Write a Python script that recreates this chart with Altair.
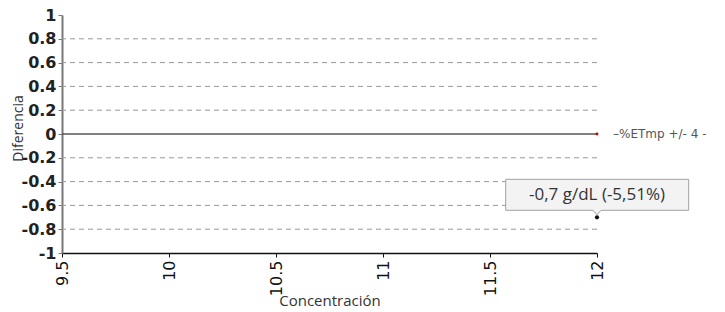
import altair as alt
import pandas as pd

x_ticks = [9.5, 10, 10.5, 11, 11.5, 12]
y_ticks = [-1, -0.8, -0.6, -0.4, -0.2, 0, 0.2, 0.4, 0.6, 0.8, 1]
grid_vals = [-0.8, -0.6, -0.4, -0.2, 0.2, 0.4, 0.6, 0.8]
line_x = [9.5, 12]
line_y = [0, 0]
point_x = [12]
point_y = [-0.7]
point_label = ["-0,7 g/dL (-5,51%)"]
legend_label = ["–%ETmp +/- 4 -"]

xscale = alt.Scale(domain=[9.5, 12], nice=False, zero=False)
yscale = alt.Scale(domain=[-1, 1], nice=False, zero=False)

line_df = pd.DataFrame({"x": line_x, "y": line_y})
pt_df = pd.DataFrame({"x": point_x, "y": point_y, "label": point_label})
leg_df = pd.DataFrame({"x": [line_x[-1]], "y": [line_y[-1]], "label": legend_label})
grid_df = pd.DataFrame({"x": [line_x[0]] * len(grid_vals), "y": grid_vals})

x_axis = alt.Axis(
    values=x_ticks, labelExpr="'' + datum.value", labelAngle=270,
    labelFont="DejaVu Sans", labelFontSize=16, labelColor="#111",
    labelPadding=3, tickSize=4, tickColor="#111", domainColor="#111",
    domainWidth=1.5, grid=False, labelOverlap=False, labelBound=False,
    labelFlush=False, title="Concentración",
    titleFont="Open Sans", titleFontSize=15, titleFontWeight="normal",
    titleColor="#333", titleY=47, titleBaseline="middle",
)
y_axis = alt.Axis(
    values=y_ticks, labelExpr="'' + datum.value",
    labelFont="DejaVu Sans", labelFontSize=16, labelFontWeight="bold",
    labelColor="#222", labelPadding=2, tickSize=4, tickColor="#777",
    domainColor="#777", domainWidth=2, grid=False, labelOverlap=False,
    labelBound=False, labelFlush=False, title="Diferencia",
    titleFont="Open Sans", titleFontSize=14, titleFontWeight="normal",
    titleColor="#333", titleX=-44, titleY=113, titleAngle=270,
    titleAlign="center", titleBaseline="middle",
)

X = alt.X("x:Q", scale=xscale, axis=x_axis)
Y = alt.Y("y:Q", scale=yscale, axis=y_axis)

line = alt.Chart(line_df).mark_line(color="#555", strokeWidth=1.5).encode(x=X, y=Y)

grid = alt.Chart(grid_df).mark_rule(color="#999", strokeDash=[5, 4], strokeWidth=1).encode(y=Y)

red_dot = alt.Chart(leg_df).mark_circle(color="#cc0000", size=8, opacity=1).encode(x=X, y=Y)

legend_txt = alt.Chart(leg_df).mark_text(
    align="left", baseline="middle", dx=16, font="DejaVu Sans", fontSize=12, color="#555"
).encode(x=X, y=Y, text="label:N")

box_path = "M-0.913,-0.38L0.917,-0.38L0.917,-0.07L0.04,-0.07L0,-0.025L-0.04,-0.07L-0.913,-0.07Z"
box = alt.Chart(pt_df).mark_point(
    shape=box_path, size=40000, filled=True, fill="#f3f3f3", stroke="#a0a0a0",
    strokeWidth=1, opacity=1, fillOpacity=1,
).encode(x=X, y=Y)

pt = alt.Chart(pt_df).mark_circle(color="#111", size=18, opacity=1).encode(x=X, y=Y)

pt_txt = alt.Chart(pt_df).mark_text(
    dy=-22, font="Open Sans", fontSize=17, color="#333", baseline="middle", align="center"
).encode(x=X, y=Y, text="label:N")

chart = alt.layer(line, grid, red_dot, legend_txt, box, pt, pt_txt).properties(
    width=535, height=238, background="white",
    autosize=alt.AutoSizeParams(type="none"),
    padding={"left": 54, "top": 7, "right": 120, "bottom": 55},
).configure_view(stroke=None, strokeWidth=0)

chart.save("out.html", embed_options={"renderer": "svg", "actions": False})
